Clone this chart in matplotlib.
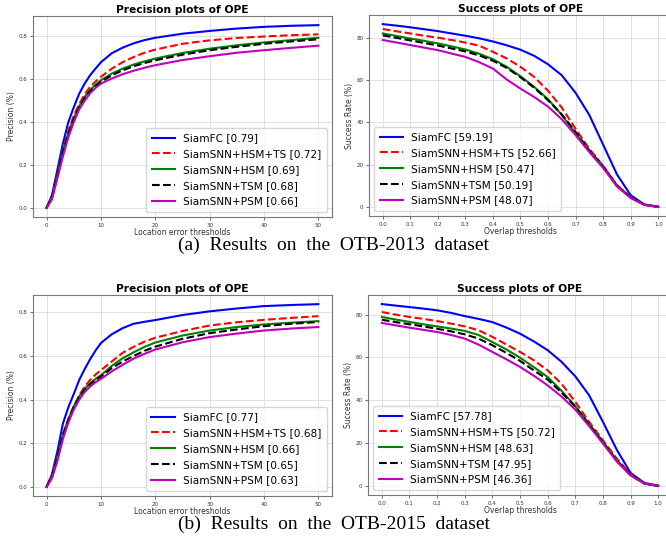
import matplotlib
matplotlib.use('Agg')
import matplotlib.pyplot as plt

# ---- data ----
methods = ['SiamFC', 'SiamSNN+HSM+TS', 'SiamSNN+HSM', 'SiamSNN+TSM', 'SiamSNN+PSM']

prec_thr = [0, 1, 2, 3, 4, 5, 6, 7, 8, 9, 10, 12, 14, 16, 18, 20, 25, 30, 35, 40, 45, 50]
succ_thr = [0.0, 0.05, 0.1, 0.15, 0.2, 0.25, 0.3, 0.35, 0.4, 0.45, 0.5,
            0.55, 0.6, 0.65, 0.7, 0.75, 0.8, 0.85, 0.9, 0.95, 1.0]

# OTB-2013
prec13_siamfc = [0, 0.06, 0.18, 0.30, 0.40, 0.47, 0.533, 0.58, 0.619, 0.65, 0.68, 0.722, 0.748, 0.768, 0.783, 0.794, 0.813, 0.826, 0.837, 0.845, 0.85, 0.853]
prec13_hsm_ts = [0, 0.05, 0.16, 0.27, 0.36, 0.43, 0.485, 0.53, 0.565, 0.59, 0.612, 0.65, 0.68, 0.704, 0.724, 0.739, 0.766, 0.782, 0.793, 0.80, 0.806, 0.81]
prec13_hsm = [0, 0.05, 0.155, 0.265, 0.35, 0.42, 0.475, 0.518, 0.55, 0.575, 0.596, 0.627, 0.65, 0.669, 0.684, 0.697, 0.723, 0.743, 0.759, 0.772, 0.783, 0.794]
prec13_tsm = [0, 0.05, 0.15, 0.26, 0.345, 0.415, 0.47, 0.512, 0.544, 0.568, 0.588, 0.619, 0.642, 0.661, 0.676, 0.689, 0.715, 0.736, 0.752, 0.766, 0.777, 0.787]
prec13_psm = [0, 0.04, 0.14, 0.24, 0.33, 0.40, 0.46, 0.50, 0.535, 0.56, 0.58, 0.604, 0.624, 0.64, 0.654, 0.666, 0.69, 0.708, 0.724, 0.736, 0.747, 0.757]
prec13_scores = [0.79, 0.72, 0.69, 0.68, 0.66]

succ13_siamfc = [86.5, 85.8, 85.0, 84.1, 83.2, 82.1, 81.0, 79.8, 78.3, 76.5, 74.4, 71.5, 67.5, 62.3, 54.0, 43.5, 29.5, 15.5, 5.6, 1.2, 0.2]
succ13_hsm_ts = [84.2, 83.1, 82.1, 81.0, 80.1, 79.0, 77.8, 76.3, 73.4, 70.3, 66.3, 61.5, 55.0, 47.0, 37.0, 27.5, 19.5, 10.5, 4.6, 1.1, 0.1]
succ13_hsm = [82.1, 80.9, 79.7, 78.6, 77.4, 76.0, 74.5, 72.5, 69.9, 66.3, 61.8, 56.8, 51.0, 43.5, 35.0, 26.5, 19.0, 10.0, 4.5, 1.1, 0.1]
succ13_tsm = [81.2, 80.0, 78.8, 77.6, 76.4, 75.0, 73.6, 71.7, 69.2, 65.8, 61.4, 56.4, 50.5, 43.8, 35.5, 26.8, 19.3, 10.2, 4.5, 1.1, 0.1]
succ13_psm = [79.0, 77.8, 76.6, 75.4, 74.2, 72.6, 71.0, 68.5, 65.5, 60.3, 56.0, 52.0, 47.5, 41.5, 34.0, 26.0, 18.5, 9.8, 4.3, 1.0, 0.1]
succ13_scores = [59.19, 52.66, 50.47, 50.19, 48.07]

# OTB-2015
prec15_siamfc = [0, 0.058, 0.165, 0.29, 0.365, 0.426, 0.49, 0.54, 0.585, 0.625, 0.66, 0.70, 0.728, 0.748, 0.757, 0.765, 0.788, 0.805, 0.818, 0.829, 0.834, 0.838]
prec15_hsm_ts = [0, 0.05, 0.14, 0.24, 0.31, 0.37, 0.42, 0.46, 0.49, 0.515, 0.535, 0.575, 0.615, 0.642, 0.666, 0.684, 0.715, 0.74, 0.755, 0.766, 0.775, 0.783]
prec15_hsm = [0, 0.05, 0.14, 0.24, 0.31, 0.37, 0.415, 0.45, 0.475, 0.495, 0.512, 0.555, 0.59, 0.617, 0.642, 0.662, 0.694, 0.717, 0.733, 0.745, 0.753, 0.76]
prec15_tsm = [0, 0.05, 0.135, 0.235, 0.305, 0.365, 0.41, 0.445, 0.47, 0.49, 0.506, 0.545, 0.575, 0.60, 0.624, 0.643, 0.679, 0.705, 0.722, 0.737, 0.748, 0.756]
prec15_psm = [0, 0.04, 0.12, 0.22, 0.295, 0.355, 0.40, 0.435, 0.46, 0.48, 0.495, 0.53, 0.56, 0.588, 0.61, 0.63, 0.663, 0.687, 0.703, 0.717, 0.726, 0.733]
prec15_scores = [0.77, 0.68, 0.66, 0.65, 0.63]

succ15_siamfc = [84.9, 84.2, 83.5, 82.8, 82.0, 80.8, 79.3, 78.0, 76.5, 74.0, 71.1, 67.5, 63.4, 58.0, 51.2, 42.4, 30.0, 17.0, 6.2, 1.5, 0.2]
succ15_hsm_ts = [81.2, 80.0, 78.9, 78.0, 77.0, 75.8, 74.5, 72.7, 69.6, 66.1, 62.6, 58.7, 54.0, 47.8, 39.3, 30.0, 21.4, 12.9, 5.6, 1.3, 0.1]
succ15_hsm = [78.9, 77.7, 76.6, 75.5, 74.5, 73.5, 72.4, 70.5, 67.2, 63.8, 59.9, 55.5, 50.9, 44.5, 37.3, 29.0, 20.7, 12.0, 5.2, 1.2, 0.1]
succ15_tsm = [77.6, 76.5, 75.5, 74.5, 73.4, 72.2, 70.8, 68.8, 65.7, 62.2, 58.4, 54.0, 49.7, 43.7, 37.0, 28.8, 20.5, 12.0, 5.2, 1.2, 0.1]
succ15_psm = [76.1, 75.0, 73.9, 72.9, 71.9, 70.5, 68.8, 66.0, 62.6, 59.2, 55.6, 51.5, 47.0, 41.8, 35.7, 28.0, 19.9, 11.5, 5.0, 1.2, 0.1]
succ15_scores = [57.78, 50.72, 48.63, 47.95, 46.36]

colors = ['b', 'r', 'g', 'k', 'm']
styles = ['-', '--', '-', '--', '-']


def draw_panel(ax, x, curves, scores, title, xlabel, ylabel, xticks, loc):
    for y, name, s, c, ls in zip(curves, methods, scores, colors, styles):
        ax.plot(x, y, color=c, linestyle=ls, lw=1.5, label=f"{name} [{s:.2f}]")
    ax.set_xticks(xticks)
    ax.grid(True, color='#dcdcdc', lw=0.6)
    ax.set_title(title, fontsize=7.7, fontweight='bold', pad=2)
    ax.set_xlabel(xlabel, fontsize=5.5, labelpad=0, color='#333333')
    ax.set_ylabel(ylabel, fontsize=5.5, labelpad=2, color='#333333')
    ax.tick_params(labelsize=4, length=2, width=0.5, pad=2, colors='#333333')
    for sp in ax.spines.values():
        sp.set_color('#777777')
        sp.set_linewidth(0.8)
    ax.legend(loc=loc, fontsize=7.6, handlelength=2.2, labelspacing=0.55,
              borderpad=0.5, handletextpad=0.8)


W, H = 666, 539
fig = plt.figure(figsize=(W / 100, H / 100), dpi=100)


def box(l, t, r, b):
    return [l / W, 1 - b / H, (r - l) / W, (b - t) / H]


ax1 = fig.add_axes(box(33, 16, 332, 217))
ax2 = fig.add_axes(box(369, 15, 672, 216))
ax3 = fig.add_axes(box(33, 295, 332, 496))
ax4 = fig.add_axes(box(368, 295, 672, 495))

succ_ticks = [0.0, 0.1, 0.2, 0.3, 0.4, 0.5, 0.6, 0.7, 0.8, 0.9, 1.0]
prec_ticks = [0, 10, 20, 30, 40, 50]

draw_panel(ax1, prec_thr, [prec13_siamfc, prec13_hsm_ts, prec13_hsm, prec13_tsm, prec13_psm],
           prec13_scores, 'Precision plots of OPE', 'Location error thresholds', 'Precision (%)',
           prec_ticks, 'lower right')
draw_panel(ax2, succ_thr, [succ13_siamfc, succ13_hsm_ts, succ13_hsm, succ13_tsm, succ13_psm],
           succ13_scores, 'Success plots of OPE', 'Overlap thresholds', 'Success Rate (%)',
           succ_ticks, 'lower left')
draw_panel(ax3, prec_thr, [prec15_siamfc, prec15_hsm_ts, prec15_hsm, prec15_tsm, prec15_psm],
           prec15_scores, 'Precision plots of OPE', 'Location error thresholds', 'Precision (%)',
           prec_ticks, 'lower right')
draw_panel(ax4, succ_thr, [succ15_siamfc, succ15_hsm_ts, succ15_hsm, succ15_tsm, succ15_psm],
           succ15_scores, 'Success plots of OPE', 'Overlap thresholds', 'Success Rate (%)',
           succ_ticks, 'lower left')

# sub-captions (LaTeX style, wide word spacing)
fig.text(334 / W, 1 - 245.5 / H, '(a)  Results  on  the  OTB-2013  dataset', ha='center', va='center',
         fontsize=14, family='Liberation Serif')
fig.text(334 / W, 1 - 524 / H, '(b)  Results  on  the  OTB-2015  dataset', ha='center', va='center',
         fontsize=14, family='Liberation Serif')

fig.savefig('out.png', dpi=100)
